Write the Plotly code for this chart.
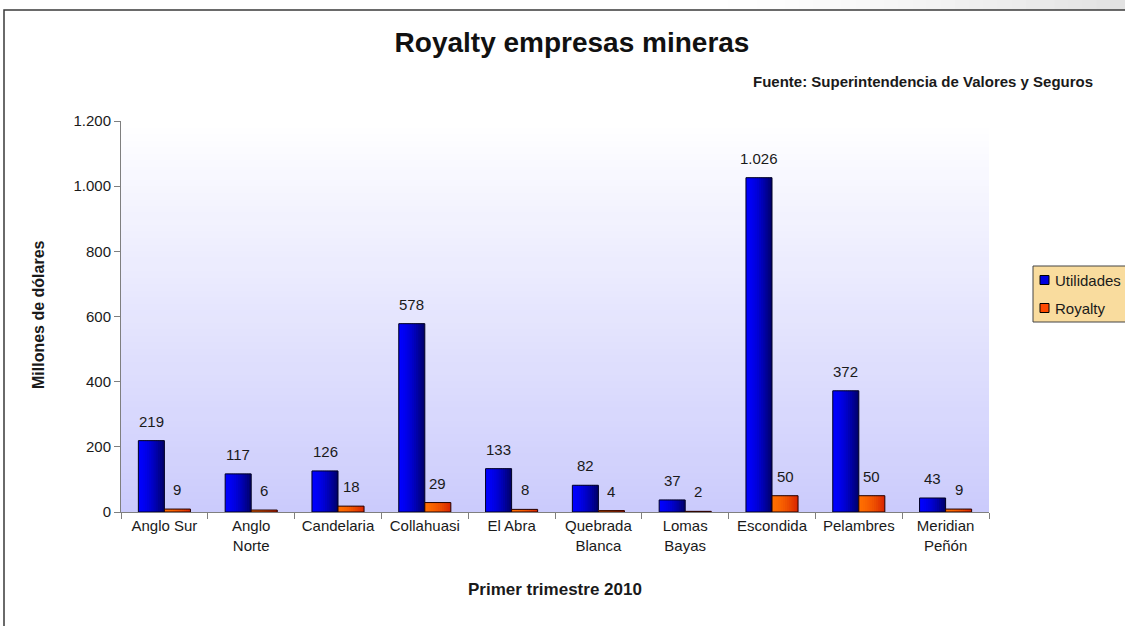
import plotly.graph_objects as go

# ---- data ----
categories = ["Anglo Sur", "Anglo<br>Norte", "Candelaria", "Collahuasi", "El Abra",
              "Quebrada<br>Blanca", "Lomas<br>Bayas", "Escondida", "Pelambres",
              "Meridian<br>Peñón"]
utilidades = [219, 117, 126, 578, 133, 82, 37, 1026, 372, 43]
royalty = [9, 6, 18, 29, 8, 4, 2, 50, 50, 9]
y_ticks = [0, 200, 400, 600, 800, 1000, 1200]
series_names = ["Utilidades", "Royalty"]
series_colors = ["#0000e0", "#ff4a00"]
# left -> right shading of each bar
series_shade = [((0, 0, 255), (0, 0, 100)), ((255, 110, 0), (215, 35, 0))]
series_edges = ["#000022", "#220000"]

W, H = 1125, 626
ML, MR, MT, MB = 121, 136, 121, 114
PW = W - ML - MR
PH = H - MT - MB
BAR_W = 0.3

def px_x(px):
    return (px - ML) / PW

def px_y(py):
    return (H - MB - py) / PH

def fmt(v):
    return f"{v:,}".replace(",", ".")

def lerp(a, b, t):
    return tuple(round(a[k] + (b[k] - a[k]) * t) for k in range(3))

FONT = "Liberation Sans, Arial, sans-serif"
TXT = "#1a1a1a"

fig = go.Figure()
K = 12
for si, (name, vals, shade, edge) in enumerate(
        zip(series_names, [utilidades, royalty], series_shade, series_edges)):
    base = -BAR_W + si * BAR_W
    step = BAR_W / K
    for j in range(K):
        col = lerp(shade[0], shade[1], ((j + 0.5) / K) ** 1.6)
        w = step * 1.6 if j < K - 1 else step
        fig.add_trace(go.Bar(
            x=categories, y=vals, name=name, offset=base + j * step, width=w,
            marker=dict(color=f"rgb{col}", line=dict(width=0)),
            hoverinfo="skip", showlegend=False,
        ))
    # outline
    fig.add_trace(go.Bar(
        x=categories, y=vals, name=name, offset=base, width=BAR_W,
        marker=dict(color="rgba(0,0,0,0)", line=dict(color=edge, width=1)),
        hoverinfo="skip", showlegend=False,
    ))

annotations = []
for vals, shift in [(utilidades, -13), (royalty, 13)]:
    for cat, v in zip(categories, vals):
        annotations.append(dict(x=cat, y=v, xref="x", yref="y", text=fmt(v),
                                showarrow=False, xshift=shift, yshift=9, yanchor="bottom",
                                font=dict(family=FONT, size=15, color=TXT)))

annotations += [
    dict(text="<b>Fuente: Superintendencia de Valores y Seguros</b>",
         xref="paper", yref="paper", x=px_x(1095), y=px_y(82),
         xanchor="right", yanchor="middle", showarrow=False,
         font=dict(family=FONT, size=15, color=TXT)),
    dict(text="<b>Primer trimestre 2010</b>",
         xref="paper", yref="paper", x=0.5, y=px_y(589),
         xanchor="center", yanchor="middle", showarrow=False,
         font=dict(family=FONT, size=17, color=TXT)),
    dict(text="<b>Millones de dólares</b>", textangle=-90,
         xref="paper", yref="paper", x=px_x(38), y=px_y(315),
         xanchor="center", yanchor="middle", showarrow=False,
         font=dict(family=FONT, size=16, color=TXT)),
]

shapes = []
# vertical gradient plot background (white -> lavender), overlapping bands
N = 60
top_c = (255, 255, 255)
bot_c = (203, 203, 252)
for i in range(N):
    t = (i + 0.5) / N  # 0 at bottom
    c = lerp(bot_c, top_c, t)
    shapes.append(dict(type="rect", xref="x domain", yref="y domain",
                       x0=0, x1=1, y0=i / N, y1=min(1.0, (i + 2) / N),
                       fillcolor=f"rgb{c}", line=dict(width=0), layer="below"))
# top-right gray gradient strip
M = 30
for i in range(M):
    x0p = 700 + (1125 - 700) * i / M
    x1p = 700 + (1125 - 700) * (i + 2) / M
    g = round(255 - 30 * ((i + 0.5) / M) ** 1.5)
    shapes.append(dict(type="rect", xref="paper", yref="paper",
                       x0=px_x(x0p), x1=px_x(x1p), y0=px_y(10), y1=px_y(0),
                       fillcolor=f"rgb({g},{g},{g})", line=dict(width=0), layer="below"))
# outer frame
shapes.append(dict(type="rect", xref="paper", yref="paper",
                   x0=px_x(4), x1=px_x(1135), y0=px_y(640), y1=px_y(10),
                   line=dict(color="#3a3a3a", width=1.5), fillcolor="rgba(0,0,0,0)",
                   layer="above"))

# legend (box, swatches, labels)
shapes.append(dict(type="rect", xref="paper", yref="paper",
                   x0=px_x(1033), x1=px_x(1140), y0=px_y(322), y1=px_y(266),
                   fillcolor="#f9dc9e", line=dict(color="#444444", width=1),
                   layer="above"))
for i, (name, col) in enumerate(zip(series_names, series_colors)):
    cy = 280 + 28 * i
    shapes.append(dict(type="rect", xref="paper", yref="paper",
                       x0=px_x(1040), x1=px_x(1049), y0=px_y(cy + 4.5), y1=px_y(cy - 4.5),
                       fillcolor=col, line=dict(color="#000000", width=1), layer="above"))
    annotations.append(dict(text=name, xref="paper", yref="paper",
                            x=px_x(1053), y=px_y(cy), xanchor="left", yanchor="middle",
                            showarrow=False, font=dict(family=FONT, size=15, color=TXT)))

fig.update_layout(
    width=W, height=H,
    margin=dict(l=ML, r=MR, t=MT, b=MB, autoexpand=False),
    paper_bgcolor="white", plot_bgcolor="white",
    separators=",.",
    barmode="overlay",
    font=dict(family=FONT, size=15, color=TXT),
    showlegend=False,
    title=dict(text="<b>Royalty empresas mineras</b>", x=572 / W, y=1 - 42 / H,
               xanchor="center", yanchor="middle",
               font=dict(family=FONT, size=28, color="#111111")),
    xaxis=dict(type="category", tickson="boundaries", ticks="outside", ticklen=6,
               tickcolor="#7f7f7f", showline=True, linecolor="#7f7f7f", linewidth=1,
               showgrid=False, tickfont=dict(family=FONT, size=15, color=TXT)),
    yaxis=dict(range=[0, 1200], tickvals=y_ticks, tickformat=",d", ticks="outside",
               ticklen=6, tickcolor="#7f7f7f", showline=True, linecolor="#7f7f7f",
               linewidth=1, showgrid=False, zeroline=False,
               tickfont=dict(family=FONT, size=15, color=TXT)),
    annotations=annotations,
    shapes=shapes,
)

fig.write_html("out.html", config={"displayModeBar": False},
               post_script="document.body.style.margin='0';document.body.style.overflow='hidden';")
